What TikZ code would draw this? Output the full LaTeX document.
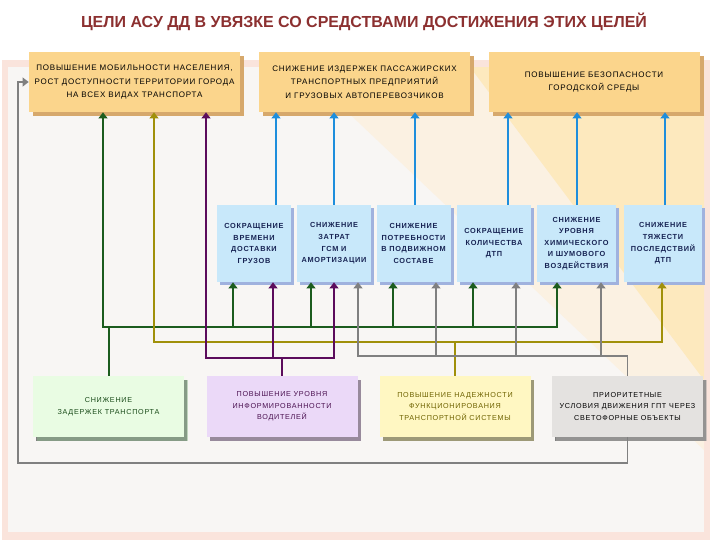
\documentclass[tikz,border=0pt]{standalone}
\usepackage{fontspec}
\setmainfont{Liberation Sans}
\newfontfamily\boxfont[LetterSpace=10]{Liberation Sans}
\usepackage{xcolor}
\usetikzlibrary{arrows.meta,shadows}

\definecolor{titlered}{RGB}{140,48,48}
\definecolor{bgpink}{RGB}{250,228,220}
\definecolor{bginner}{RGB}{248,246,244}
\definecolor{bgyellow}{RGB}{251,241,226}
\definecolor{bgyellowdeep}{RGB}{253,233,190}
\definecolor{goalfill}{RGB}{251,213,140}
\definecolor{goalshade}{RGB}{214,168,108}
\definecolor{taskfill}{RGB}{200,232,250}
\definecolor{taskshade}{RGB}{160,178,222}
\definecolor{taskink}{RGB}{24,36,84}
\definecolor{delayfill}{RGB}{233,252,227}
\definecolor{delayshade}{RGB}{140,182,140}
\definecolor{delayink}{RGB}{24,74,24}
\definecolor{infofill}{RGB}{235,217,248}
\definecolor{infoshade}{RGB}{176,148,184}
\definecolor{infoink}{RGB}{74,16,80}
\definecolor{relyfill}{RGB}{255,247,194}
\definecolor{relyshade}{RGB}{186,178,112}
\definecolor{relyink}{RGB}{110,98,0}
\definecolor{prioshade}{RGB}{168,166,164}
\definecolor{priofill}{RGB}{228,226,224}
\definecolor{wiregreen}{RGB}{28,92,30}
\definecolor{wireolive}{RGB}{160,144,10}
\definecolor{wirepurple}{RGB}{92,12,92}
\definecolor{wiregrey}{RGB}{128,128,128}
\definecolor{wireblue}{RGB}{30,142,220}

\begin{document}
\begin{tikzpicture}[x=0.75pt,y=0.75pt,yscale=-1,xscale=1,
    goalbox/.style={fill=goalfill,drop shadow={shadow xshift=3pt,shadow yshift=-3pt,fill=goalshade,opacity=1},
      minimum width=158.25pt,minimum height=45pt,inner sep=1pt,align=center,
      font=\boxfont\fontsize{6}{10}\selectfont},
    taskbox/.style={fill=taskfill,drop shadow={shadow xshift=2.5pt,shadow yshift=-2.5pt,fill=taskshade,opacity=1},
      minimum width=55.5pt,minimum height=57.75pt,inner sep=1pt,align=center,text=taskink,
      font=\boxfont\bfseries\fontsize{5.5}{8.7}\selectfont},
    meanbox/.style={drop shadow={shadow xshift=2.5pt,shadow yshift=-3pt,opacity=1},
      minimum width=113.25pt,minimum height=45.75pt,inner sep=1pt,align=center,
      font=\boxfont\fontsize{5.4}{8.6}\selectfont},
    wire/.style={line width=1.5pt,-{Triangle[width=6.5pt,length=4.5pt]}},
    gwire/.style={wire,wiregreen},
    owire/.style={wire,wireolive},
    pwire/.style={wire,wirepurple},
    ywire/.style={wire,wiregrey,line width=1.2pt},
    bwire/.style={wire,wireblue,line width=1.8pt}]
    %uncomment if require: \path (0,540); %set diagram left start at 0, and has height of 540
    \useasboundingbox (0,0) rectangle (720,540);

    %Shape: Rectangle [id:background]
    \fill [bgpink] (2,60) rectangle (710,540);
    \fill [bginner] (8,67) rectangle (704,532);
    \fill [bgyellow] (300,67) -- (704,67) -- (704,450) -- cycle;
    \fill [bgyellowdeep] (470,67) -- (704,67) -- (704,380) -- cycle;

    % Text Node
    \node [font=\bfseries\fontsize{12}{14}\selectfont,text=titlered] (title) at (364,22) {ЦЕЛИ АСУ ДД В УВЯЗКЕ СО СРЕДСТВАМИ ДОСТИЖЕНИЯ ЭТИХ ЦЕЛЕЙ};

    %Shape: Rectangle [id:goals]
    \node [goalbox] (A) at (134.5,82) {ПОВЫШЕНИЕ МОБИЛЬНОСТИ НАСЕЛЕНИЯ,\\РОСТ ДОСТУПНОСТИ ТЕРРИТОРИИ ГОРОДА\\НА ВСЕХ ВИДАХ ТРАНСПОРТА};
    \node [goalbox] (B) at (364.5,82) {СНИЖЕНИЕ ИЗДЕРЖЕК ПАССАЖИРСКИХ\\ТРАНСПОРТНЫХ ПРЕДПРИЯТИЙ\\И ГРУЗОВЫХ АВТОПЕРЕВОЗЧИКОВ};
    \node [goalbox] (C) at (594,82) {ПОВЫШЕНИЕ БЕЗОПАСНОСТИ\\ГОРОДСКОЙ СРЕДЫ};

    %Shape: Rectangle [id:tasks]
    \node [taskbox] (B1) at (254,243.5) {СОКРАЩЕНИЕ\\ВРЕМЕНИ\\ДОСТАВКИ\\ГРУЗОВ};
    \node [taskbox] (B2) at (334,243.5) {СНИЖЕНИЕ\\ЗАТРАТ\\ГСМ И\\АМОРТИЗАЦИИ};
    \node [taskbox] (B3) at (413.5,243.5) {СНИЖЕНИЕ\\ПОТРЕБНОСТИ\\В ПОДВИЖНОМ\\СОСТАВЕ};
    \node [taskbox] (B4) at (494,243.5) {СОКРАЩЕНИЕ\\КОЛИЧЕСТВА\\ДТП};
    \node [taskbox,minimum width=59.25pt] (B5) at (576.5,243.5) {СНИЖЕНИЕ\\УРОВНЯ\\ХИМИЧЕСКОГО\\И ШУМОВОГО\\ВОЗДЕЙСТВИЯ};
    \node [taskbox,minimum width=58.5pt] (B6) at (663,243.5) {СНИЖЕНИЕ\\ТЯЖЕСТИ\\ПОСЛЕДСТВИЙ\\ДТП};

    %Shape: Rectangle [id:means]
    \node [meanbox,fill=delayfill,text=delayink,drop shadow={fill=delayshade}] (D1) at (108.5,406.5) {СНИЖЕНИЕ\\ЗАДЕРЖЕК ТРАНСПОРТА};
    \node [meanbox,fill=infofill,text=infoink,drop shadow={fill=infoshade}] (D2) at (282,406.5) {ПОВЫШЕНИЕ УРОВНЯ\\ИНФОРМИРОВАННОСТИ\\ВОДИТЕЛЕЙ};
    \node [meanbox,fill=relyfill,text=relyink,drop shadow={fill=relyshade}] (D3) at (455,406.5) {ПОВЫШЕНИЕ НАДЕЖНОСТИ\\ФУНКЦИОНИРОВАНИЯ\\ТРАНСПОРТНОЙ СИСТЕМЫ};
    \node [meanbox,fill=priofill,text=black,drop shadow={fill=prioshade}] (D4) at (627.5,406.5) {ПРИОРИТЕТНЫЕ\\УСЛОВИЯ ДВИЖЕНИЯ ГПТ ЧЕРЕЗ\\СВЕТОФОРНЫЕ ОБЪЕКТЫ};

    %Straight Lines [id:blue]
    \draw [bwire] (276,0 |- B1.north) -- (276,0 |- B.south);
    \draw [bwire] (B2.north) -- (B2.north |- B.south);
    \draw [bwire] (415,0 |- B3.north) -- (415,0 |- B.south);
    \draw [bwire] (508,0 |- B4.north) -- (508,0 |- C.south);
    \draw [bwire] (577,0 |- B5.north) -- (577,0 |- C.south);
    \draw [bwire] (665,0 |- B6.north) -- (665,0 |- C.south);

    %Straight Lines [id:green]
    \foreach \gx/\gt in {103/A,233/B1,311/B2,393/B3,473/B4,557/B5}
      \draw [gwire] (D1.north) |- (\gx,327) -- (\gx,327 |- \gt.south);
    %Straight Lines [id:olive]
    \foreach \ox/\ot in {154/A,662/B6}
      \draw [owire] (D3.north) |- (\ox,342) -- (\ox,342 |- \ot.south);
    %Straight Lines [id:purple]
    \foreach \px/\pt in {206/A,273/B1,334/B2}
      \draw [pwire] (D2.north) |- (\px,358) -- (\px,358 |- \pt.south);
    %Straight Lines [id:grey]
    \foreach \yx/\yt in {358/B2,436/B3,516/B4,601/B5}
      \draw [ywire] (D4.north) |- (\yx,356) -- (\yx,356 |- \yt.south);
    \draw [ywire] (D4.south) |- (18,463) |- (A.west);

\end{tikzpicture}
\end{document}
